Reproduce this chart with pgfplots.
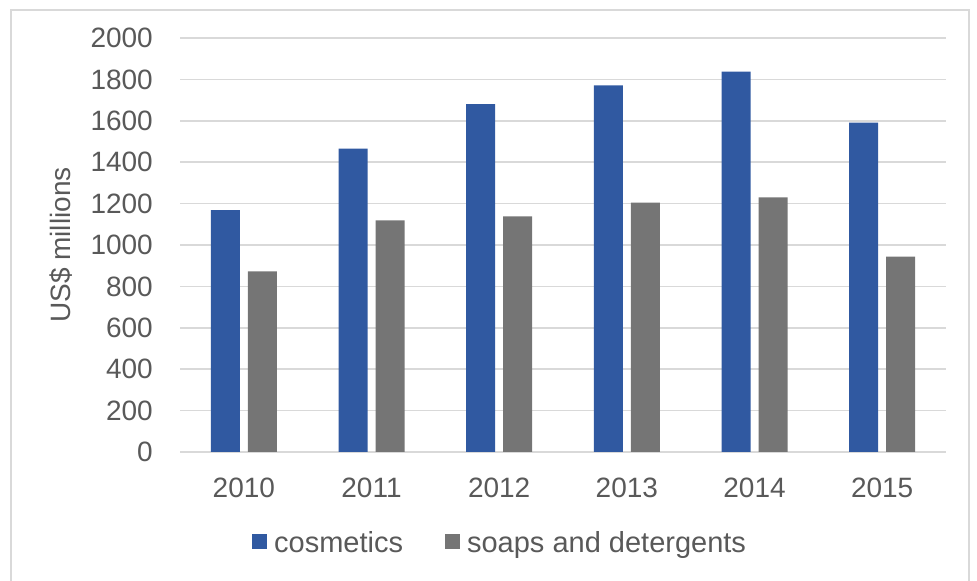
\documentclass[border=0pt]{standalone}
\usepackage{pgfplots}
\pgfplotsset{compat=1.18}
\usepackage{fontspec}
\setmainfont{Liberation Sans}
\definecolor{cosm}{RGB}{48,89,161}
\definecolor{soap}{RGB}{117,117,117}
\definecolor{gridc}{RGB}{217,217,217}
\definecolor{txt}{RGB}{89,89,89}
\begin{document}
\begin{tikzpicture}[x=1bp,y=1bp]
\useasboundingbox (0,0) rectangle (977,581);
\draw[gridc, line width=1.5bp] (11,-5) rectangle (969,571);
\begin{axis}[
  at={(180bp,129bp)}, anchor=south west,
  scale only axis, width=766bp, height=414bp,
  font=\fontsize{28bp}{34bp}\selectfont,
  /pgf/number format/assume math mode=true,
  ybar=8bp, bar width=29bp,
  xmin=-0.5, xmax=5.5, ymin=0, ymax=2000,
  xtick=data, xticklabels={2010,2011,2012,2013,2014,2015},
  ytick={0,200,...,2000},
  yticklabel style={/pgf/number format/1000 sep={}},
  major tick length=0pt,
  axis line style={draw=none},
  ymajorgrids, grid style={gridc, line width=1.5bp},
  tick label style={text=txt, inner sep=0pt},
  yticklabel style={anchor=east, xshift=-27bp},
  xticklabel style={anchor=north, yshift=-26bp},
  ylabel={US\$ millions},
  ylabel style={at={(axis description cs:-0.1553,0.5)}, anchor=center, text=txt},
  legend columns=-1,
  legend style={at={(axis description cs:0.094,-0.2198)}, anchor=west, draw=none, fill=none, inner sep=0pt,
    font=\fontsize{29bp}{34bp}\selectfont,
    nodes={inner sep=0pt, text=txt},
    /tikz/every odd column/.append style={column sep=7bp},
    /tikz/every even column/.append style={column sep=42bp}},
  legend image code/.code={\fill[#1] (0bp,-6bp) rectangle (15bp,9bp);},
]
\addplot[fill=cosm, draw=none] coordinates {(0,1169) (1,1465) (2,1680) (3,1771) (4,1837) (5,1591)};
\addplot[fill=soap, draw=none] coordinates {(0,873) (1,1119) (2,1138) (3,1205) (4,1230) (5,944)};
\legend{cosmetics, soaps and detergents}
\end{axis}
\end{tikzpicture}
\end{document}
